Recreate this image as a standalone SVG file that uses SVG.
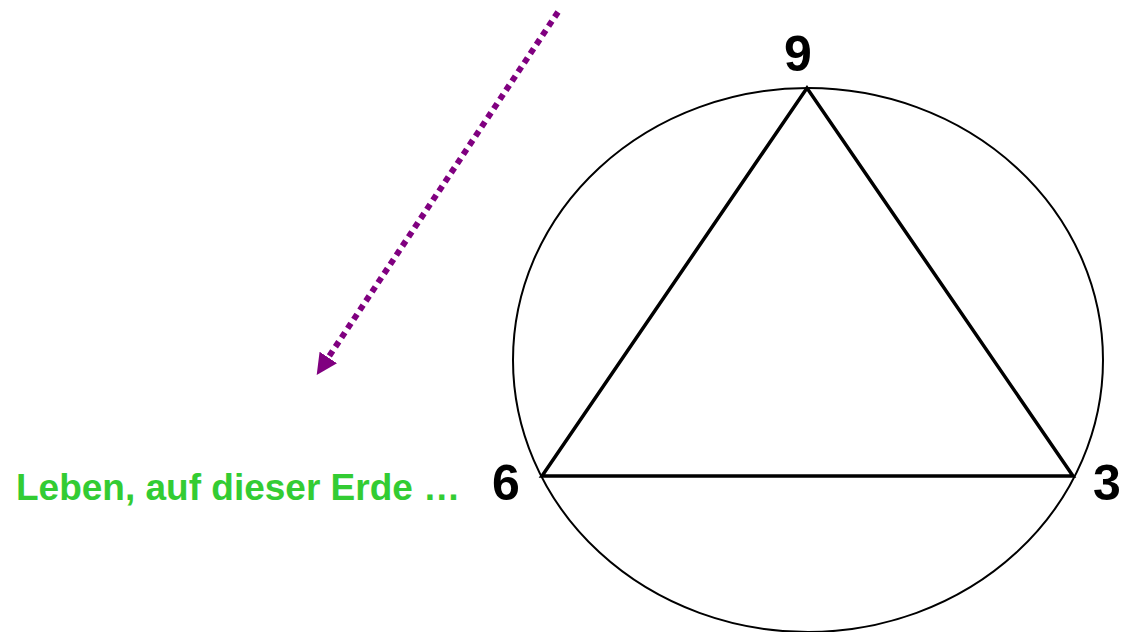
<svg xmlns="http://www.w3.org/2000/svg" width="1126" height="632" viewBox="0 0 1126 632">
<style>
.num{font-family:"Liberation Sans",Arial,sans-serif;font-weight:bold;font-size:50px;fill:#000;text-anchor:middle}
.lbl{font-family:"Liberation Sans",Arial,sans-serif;font-weight:bold;font-size:37px;fill:#33cc33}
</style>
<defs>
<marker id="ah" viewBox="0 0 10 10" refX="2" refY="5" markerWidth="3.5" markerHeight="3.5" orient="auto" markerUnits="strokeWidth">
<path d="M0,0 L10,5 L0,10 z" fill="#800080"/>
</marker>
</defs>
<rect width="1126" height="632" fill="#fff"/>
<g id="circle"><ellipse cx="808" cy="360" rx="295" ry="272" fill="none" stroke="#000" stroke-width="2"/></g>
<g id="triangle"><polygon points="807,88 542,476 1073,476" fill="none" stroke="#000" stroke-width="3.5" stroke-linejoin="miter"/></g>
<g id="n9"><text class="num" x="798" y="71">9</text></g>
<g id="n6"><text class="num" x="506" y="500">6</text></g>
<g id="n3"><text class="num" x="1107" y="500">3</text></g>
<g id="label"><text class="lbl" x="16" y="500">Leben, auf dieser Erde …</text></g>
<g id="connectors">
<line x1="558" y1="12" x2="326" y2="361" stroke="#800080" stroke-width="6" stroke-dasharray="6,5" marker-end="url(#ah)"/>
</g>
</svg>
